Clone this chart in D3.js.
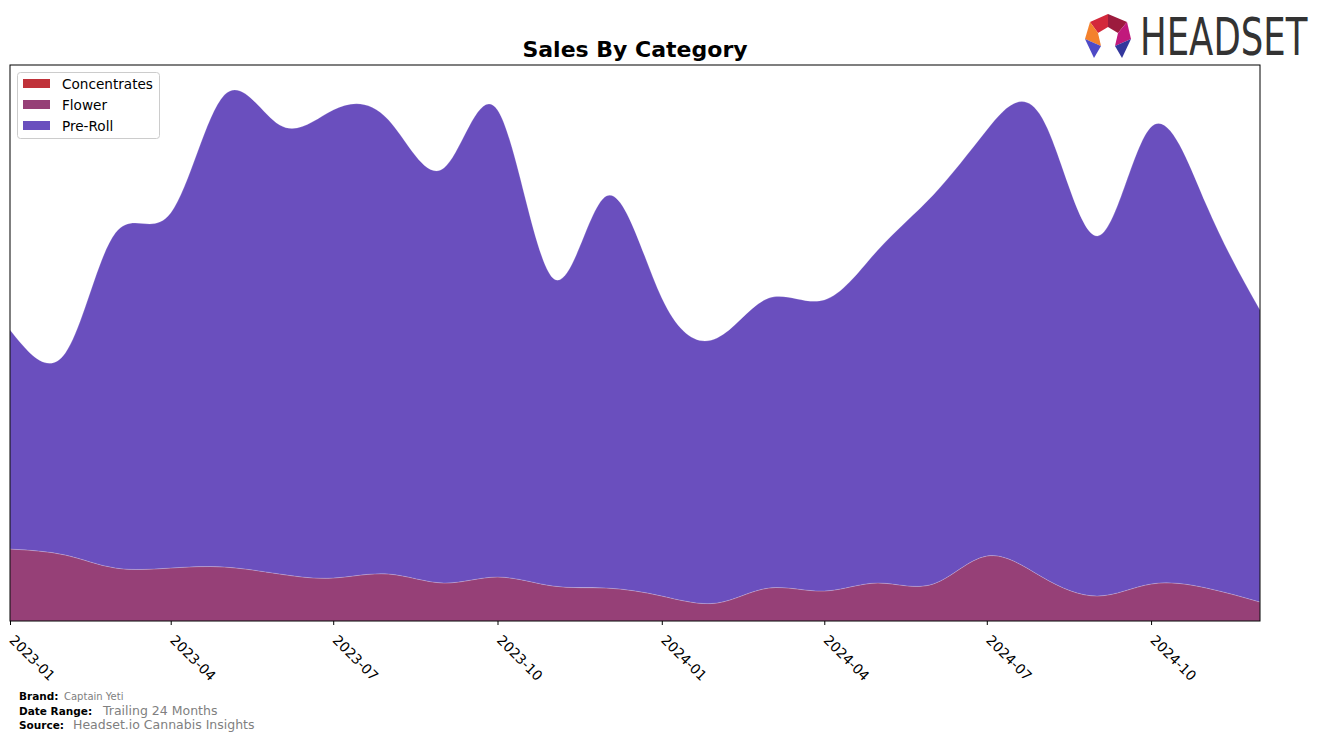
<!DOCTYPE html>
<html>
<head>
<meta charset="utf-8">
<script src="https://cdn.jsdelivr.net/npm/d3@7"></script>
<style>
  html, body { margin: 0; padding: 0; background: #fff; }
  svg { display: block; font-family: "DejaVu Sans", sans-serif; }
</style>
</head>
<body>
<svg id="chart" width="1324" height="741"></svg>
<script>
// ---- data ----
const months = ["2023-01","2023-02","2023-03","2023-04","2023-05","2023-06","2023-07","2023-08","2023-09","2023-10","2023-11","2023-12",
                "2024-01","2024-02","2024-03","2024-04","2024-05","2024-06","2024-07","2024-08","2024-09","2024-10","2024-11","2024-12"];
const categories = ["Concentrates", "Flower", "Pre-Roll"];
const concentrates = [0,0,0,0,0,0,0,0,0,0,0,0, 0,0,0,0,0,0,0,0,0,0,0,0];
const flower = [72,66,53,53,54,47,43,47,38,44,35,33, 25,18,33,30,38,37,65,44,25,37,33,19];
const preRoll = [219,202,335,355,472,449,468,454,415,467,308,392, 298,265,290,291,333,389,426,459,360,457,383,292];
const tickLabels = ["2023-01","2023-04","2023-07","2023-10","2024-01","2024-04","2024-07","2024-10"];
const colors = ["#c0323a", "#964077", "#6a4fbe"];

// ---- layout ----
const svg = d3.select("#chart");
const m = { left: 10, right: 1260, top: 65, bottom: 621 };
const parse = d3.timeParse("%Y-%m");
const rows = months.map((mo, i) => ({
  date: parse(mo),
  "Concentrates": concentrates[i],
  "Flower": flower[i],
  "Pre-Roll": preRoll[i]
}));

const x = d3.scaleTime()
  .domain([rows[0].date, rows[rows.length - 1].date])
  .range([m.left, m.right]);
const y = d3.scaleLinear().domain([0, 556]).range([m.bottom, m.top]);

const series = d3.stack().keys(categories)(rows);

const area = d3.area()
  .x(d => x(d.data.date))
  .y0(d => y(d[0]))
  .y1(d => y(d[1]))
  .curve(d3.curveNatural);

svg.append("defs").append("clipPath").attr("id", "clip")
  .append("rect").attr("x", m.left).attr("y", m.top)
  .attr("width", m.right - m.left).attr("height", m.bottom - m.top);

svg.append("g").attr("clip-path", "url(#clip)")
  .selectAll("path").data(series).join("path")
  .attr("d", area)
  .attr("fill", (d, i) => colors[i])
  .attr("stroke", "rgba(255,255,255,0.3)")
  .attr("stroke-width", 0.6);

// axes frame
svg.append("rect")
  .attr("x", m.left).attr("y", m.top)
  .attr("width", m.right - m.left).attr("height", m.bottom - m.top)
  .attr("fill", "none").attr("stroke", "#000").attr("stroke-width", 1);

const xAxis = d3.axisBottom(x)
  .tickValues(tickLabels.map(parse))
  .tickFormat(d3.timeFormat("%Y-%m"))
  .tickSize(4).tickPadding(4);
const gx = svg.append("g").attr("transform", `translate(0,${m.bottom})`).call(xAxis);
gx.select(".domain").remove();
gx.selectAll("line").attr("stroke", "#000");
gx.selectAll("text")
  .attr("font-size", 13.8).attr("fill", "#000")
  .attr("font-family", "DejaVu Sans, sans-serif")
  .attr("text-anchor", "start")
  .attr("x", 0).attr("y", 0).attr("dy", "0")
  .attr("transform", "translate(-2,20) rotate(45)");

// title
svg.append("text").attr("x", 635).attr("y", 57)
  .attr("text-anchor", "middle").attr("font-size", 22).attr("font-weight", "bold")
  .text("Sales By Category");

// legend
const lg = svg.append("g");
lg.append("rect").attr("x", 17.5).attr("y", 72.5).attr("width", 142).attr("height", 66)
  .attr("rx", 3).attr("fill", "#fff").attr("fill-opacity", 0.8)
  .attr("stroke", "#ccc");
categories.forEach((c, i) => {
  const cy = 84 + i * 21;
  lg.append("rect").attr("x", 23).attr("y", cy - 5).attr("width", 27).attr("height", 9)
    .attr("fill", colors[i]);
  lg.append("text").attr("x", 62).attr("y", cy + 5).attr("font-size", 13.6).text(c);
});

// footer
const foot = [
  { label: "Brand:", value: "Captain Yeti", y: 700, vs: 10, lx: 64 },
  { label: "Date Range:", value: "Trailing 24 Months", y: 715, vs: 12.5, lx: 103 },
  { label: "Source:", value: "Headset.io Cannabis Insights", y: 729, vs: 12.5, lx: 73 }
];
foot.forEach(f => {
  svg.append("text").attr("x", 19).attr("y", f.y).attr("font-size", 10.5)
    .attr("font-weight", "bold").text(f.label);
  svg.append("text").attr("x", f.lx).attr("y", f.y).attr("font-size", f.vs)
    .attr("fill", "#808080").text(f.value);
});

// logo
const logo = svg.append("g");
const P = {
  top: [1108, 14], ul: [1090, 22], l: [1085, 39], lf: [1094, 58], il2: [1101, 46],
  il1: [1098, 33], it: [1108, 27], ir1: [1118, 33], ir2: [1115, 46], rf: [1122, 58],
  r: [1131, 39], ur: [1127, 22]
};
const polys = [
  { pts: ["top", "ul", "il1", "it"], c: "#d3283b" },
  { pts: ["top", "ur", "ir1", "it"], c: "#9c1b3d" },
  { pts: ["ur", "r", "ir2", "ir1"], c: "#c1197c" },
  { pts: ["ul", "l", "il2", "il1"], c: "#f4812c" },
  { pts: ["l", "il2", "lf"], c: "#4e4ac6" },
  { pts: ["r", "ir2", "rf"], c: "#33379c" }
];
polys.forEach(p => {
  logo.append("polygon").attr("points", p.pts.map(k => P[k].join(",")).join(" ")).attr("fill", p.c);
});
logo.append("text")
  .attr("transform", "translate(1140,55) scale(1,1.45)")
  .attr("font-size", 35.5).attr("fill", "#333")
  .attr("font-family", "DejaVu Sans, sans-serif")
  .text("HEADSET");
</script>
</body>
</html>
